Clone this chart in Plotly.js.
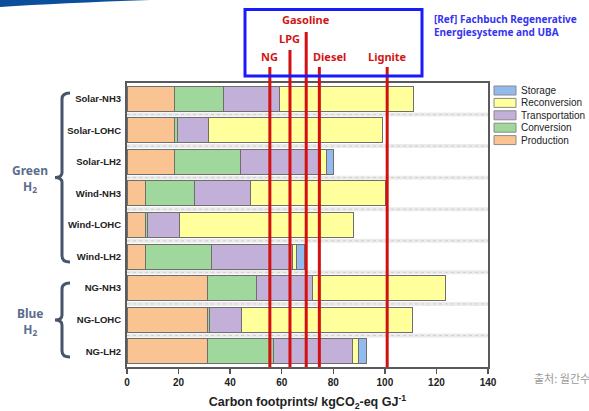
<!DOCTYPE html>
<html>
<head>
<meta charset="utf-8">
<script src="https://cdn.plot.ly/plotly-3.0.1.min.js"></script>
<style>
  html, body { margin: 0; padding: 0; background: #ffffff; }
  #chart { width: 589px; height: 411px; }
</style>
</head>
<body>
<div id="chart"></div>
<script>
// ---------------- data ----------------
const categories = ["Solar-NH3", "Solar-LOHC", "Solar-LH2", "Wind-NH3", "Wind-LOHC", "Wind-LH2", "NG-NH3", "NG-LOHC", "NG-LH2"];
const production     = [18.4, 18.4, 18.4, 7.2, 7.2, 7.3, 31.1, 31.1, 31.1];
const conversion     = [19.1, 1.2, 25.7, 19.0, 0.8, 25.5, 19.2, 0.9, 25.7];
const transportation = [21.7, 12.1, 31.1, 21.8, 12.2, 31.2, 21.6, 12.3, 30.7];
const reconversion   = [52.0, 67.4, 2.0, 52.1, 67.5, 1.9, 51.7, 66.5, 2.2];
const storage        = [null, null, 2.9, null, null, 3.1, null, null, 3.2];

const seriesNames = ["Production", "Conversion", "Transportation", "Reconversion", "Storage"];
const seriesColors = ["#f9c492", "#9fd79c", "#c2b0d8", "#ffff9c", "#92baee"];

const fuelNames  = ["NG", "LPG", "Gasoline", "Diesel", "Lignite"];
const fuelValues = [55.4, 63.2, 69.5, 74.6, 100.9];

const xTicks = [0, 20, 40, 60, 80, 100, 120, 140];

// ---------------- layout helpers (pixel -> paper) ----------------
const L = 127, R = 488, T = 83, B = 367;
const px = v => (v - L) / (R - L);
const py = v => (B - v) / (B - T);

const seriesData = [production, conversion, transportation, reconversion, storage];
const traces = seriesNames.map((name, i) => ({
  type: "bar",
  orientation: "h",
  name: name,
  y: categories,
  x: seriesData[i],
  marker: { color: seriesColors[i], line: { color: "#6e6e6e", width: 1 } },
  hoverinfo: "x+name",
  showlegend: false
}));

const shapes = [];
const annotations = [];

// band separators between categories
for (let i = 0; i < categories.length - 1; i++) {
  shapes.push({ type: "line", xref: "paper", yref: "y", x0: 0, x1: 1, y0: i + 0.5, y1: i + 0.5,
    line: { color: "#ebebeb", width: 4 }, layer: "below" });
  shapes.push({ type: "line", xref: "paper", yref: "y", x0: 0, x1: 1, y0: i + 0.5, y1: i + 0.5,
    line: { color: "#cfcfcf", width: 1, dash: "dot" }, layer: "below" });
}

// fuel reference lines + labels
const fuelStyle = {
  "NG":       { top: 67, label: 57, shift: 0 },
  "LPG":      { top: 50, label: 39, shift: 0 },
  "Gasoline": { top: 32, label: 20, shift: 0 },
  "Diesel":   { top: 67, label: 57, shift: 10 },
  "Lignite":  { top: 67, label: 57, shift: 0 }
};
fuelNames.forEach((n, i) => {
  const st = fuelStyle[n];
  shapes.push({ type: "line", xref: "x", yref: "paper", x0: fuelValues[i], x1: fuelValues[i],
    y0: 0, y1: py(st.top), line: { color: "#d40f0f", width: 3 }, layer: "above" });
  annotations.push({ xref: "x", yref: "paper", x: fuelValues[i], y: py(st.label), text: "<b>" + n + "</b>",
    showarrow: false, xanchor: "center", yanchor: "middle", xshift: st.shift,
    font: { family: "Noto Sans, Open Sans, sans-serif", size: 11, color: "#d01515" } });
});

// blue box
shapes.push({ type: "rect", xref: "paper", yref: "paper", x0: px(245), x1: px(422), y0: py(76), y1: py(9.5),
  line: { color: "#1a1aff", width: 3 }, fillcolor: "rgba(0,0,0,0)" });

// ref text
annotations.push({ xref: "paper", yref: "paper", x: px(432), y: py(26), xanchor: "left", yanchor: "middle",
  align: "left", showarrow: false,
  text: "<b>[Ref] Fachbuch Regenerative<br>Energiesysteme and UBA</b>",
  font: { family: "Noto Sans, Open Sans, sans-serif", size: 10, color: "#3535ee" } });

// manual legend (top to bottom: Storage ... Production)
const legendOrder = [4, 3, 2, 1, 0];
legendOrder.forEach((si, k) => {
  const cy = 90.5 + k * 12.4;
  shapes.push({ type: "rect", xref: "paper", yref: "paper", x0: px(494), x1: px(516), y0: py(cy + 4.5), y1: py(cy - 4.5),
    fillcolor: seriesColors[si], line: { color: "#8a8a8a", width: 1 } });
  annotations.push({ xref: "paper", yref: "paper", x: px(519), y: py(cy), xanchor: "left", yanchor: "middle",
    showarrow: false, text: seriesNames[si],
    font: { family: "Arial, Liberation Sans, sans-serif", size: 10, color: "#222222" } });
});

// group braces
function brace(top, bot) {
  const mid = (top + bot) / 2;
  const xv = 62, xh = 70, xt = 55;
  return "M " + px(xh) + "," + py(top) +
    " Q " + px(xv) + "," + py(top) + " " + px(xv) + "," + py(top + 6) +
    " L " + px(xv) + "," + py(mid - 5) +
    " Q " + px(xv) + "," + py(mid) + " " + px(xt) + "," + py(mid) +
    " Q " + px(xv) + "," + py(mid) + " " + px(xv) + "," + py(mid + 5) +
    " L " + px(xv) + "," + py(bot - 6) +
    " Q " + px(xv) + "," + py(bot) + " " + px(xh) + "," + py(bot);
}
shapes.push({ type: "path", xref: "paper", yref: "paper", path: brace(93, 262), line: { color: "#45556c", width: 3 } });
shapes.push({ type: "path", xref: "paper", yref: "paper", path: brace(283, 357), line: { color: "#45556c", width: 3 } });

annotations.push({ xref: "paper", yref: "paper", x: px(30), y: py(178), showarrow: false, xanchor: "center", yanchor: "middle",
  text: "<b>Green<br>H<sub>2</sub></b>", font: { family: "Noto Sans, Open Sans, sans-serif", size: 12, color: "#5a6d8c" } });
annotations.push({ xref: "paper", yref: "paper", x: px(30), y: py(321), showarrow: false, xanchor: "center", yanchor: "middle",
  text: "<b>Blue<br>H<sub>2</sub></b>", font: { family: "Noto Sans, Open Sans, sans-serif", size: 12, color: "#5a6d8c" } });

// top-left decorative swoosh
shapes.push({ type: "path", xref: "paper", yref: "paper",
  path: "M " + px(0) + "," + py(0) + " L " + px(150) + "," + py(0) + " Q " + px(60) + "," + py(3) + " " + px(0) + "," + py(7) + " Z",
  fillcolor: "#0b4f9c", line: { width: 0 } });

// watermark
annotations.push({ xref: "paper", yref: "paper", x: px(532), y: py(378), xanchor: "left", yanchor: "middle", showarrow: false,
  text: "출처: 월간수", font: { family: "Noto Sans CJK KR, sans-serif", size: 11, color: "#9a9a9a" } });

const layout = {
  width: 589, height: 411,
  margin: { l: L, r: 589 - R, t: T, b: 411 - B, pad: 0 },
  paper_bgcolor: "#ffffff", plot_bgcolor: "#ffffff",
  barmode: "stack",
  bargap: 0.21,
  showlegend: false,
  xaxis: {
    range: [0, 140], tickvals: xTicks, ticktext: xTicks.map(v => "<b>" + v + "</b>"),
    ticks: "outside", ticklen: 5, tickwidth: 1.5, tickcolor: "#555555",
    showgrid: false, zeroline: false,
    showline: true, linecolor: "#5a5a5a", linewidth: 2, mirror: true,
    tickfont: { family: "Arial, Liberation Sans, sans-serif", size: 10, color: "#222222" },
    title: { text: "<b>Carbon footprints/ kgCO<sub>2</sub>-eq GJ<sup>-1</sup></b>", standoff: 11,
      font: { family: "Arial, Liberation Sans, sans-serif", size: 12.5, color: "#222222" } }
  },
  yaxis: {
    type: "category", categoryorder: "array", categoryarray: categories,
    range: [8.5, -0.5],
    ticks: "", showgrid: false, zeroline: false,
    showline: true, linecolor: "#5a5a5a", linewidth: 2, mirror: true,
    ticktext: categories.map(c => "<b>" + c + "</b>"), tickvals: categories,
    ticklabelstandoff: 2,
    tickfont: { family: "Arial, Liberation Sans, sans-serif", size: 9.5, color: "#222222" }
  },
  shapes: shapes,
  annotations: annotations
};

Plotly.newPlot("chart", traces, layout, { displayModeBar: false, staticPlot: true });
</script>
</body>
</html>
